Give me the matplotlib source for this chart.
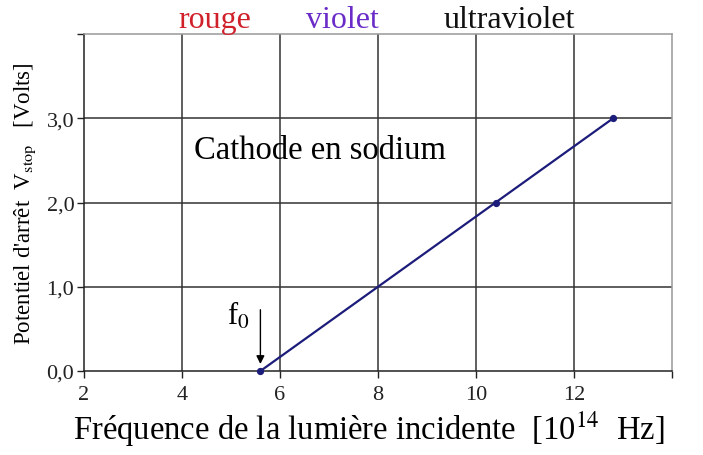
import matplotlib
matplotlib.use("Agg")
import matplotlib.pyplot as plt
from matplotlib.ticker import FixedLocator, FixedFormatter

freq = [5.6, 10.4, 12.8]
vstop = [0.0, 2.0, 3.0]
xticks = [2, 4, 6, 8, 10, 12, 14]
xticklabels = ["2", "4", "6", "8", "10", "12", ""]
yticks = [0, 1, 2, 3, 4]
yticklabels = ["0,0", "1,0", "2,0", "3,0", ""]
bands = ["rouge", "violet", "ultraviolet"]
band_colors = ["#d0202a", "#6a2bc8", "#111111"]
band_x = [4.67, 7.27, 10.69]

plt.rcParams['font.family'] = ['Liberation Serif', 'DejaVu Serif']
plt.rcParams['mathtext.fontset'] = 'stix'

fig = plt.figure(figsize=(7.03, 4.56), dpi=100)
ax = fig.add_axes([84/703, 1-372/456, (672-84)/703, (372-35)/456])
ax.set_xlim(2, 14)
ax.set_ylim(0, 4)

for x in [4, 6, 8, 10, 12]:
    ax.axvline(x, color="#333333", lw=1.1, zorder=1)
for y in [1, 2, 3]:
    ax.axhline(y, color="#333333", lw=1.1, zorder=1)

ax.plot(freq, vstop, color="#1c1c7a", lw=1.6, marker="o", ms=4.2, zorder=3, clip_on=False)

ax.annotate("", xy=(5.6, 0.05), xytext=(5.6, 0.76),
            arrowprops=dict(arrowstyle="-|>", color="black", lw=1.0, mutation_scale=12))
ax.text(5.16, 0.48, r"f$_0$", fontsize=22, ha="center", va="bottom")

ax.text(4.24, 2.63, "Cathode en sodium", fontsize=23.5, ha="left", va="center")

for b, c, x in zip(bands, band_colors, band_x):
    ax.text(x, 4.08, b, color=c, fontsize=23, ha="center", va="baseline")

ax.spines['left'].set_color("#222222")
ax.spines['bottom'].set_color("#222222")
ax.spines['top'].set_color("#999999")
ax.spines['right'].set_color("#999999")
for s in ax.spines.values():
    s.set_linewidth(1.1)

ax.xaxis.set_major_locator(FixedLocator(xticks))
ax.xaxis.set_major_formatter(FixedFormatter(xticklabels))
ax.yaxis.set_major_locator(FixedLocator(yticks))
ax.yaxis.set_major_formatter(FixedFormatter(yticklabels))
ax.tick_params(axis='x', direction='out', length=5, width=1, labelsize=16, pad=5, colors="#222222")
ax.tick_params(axis='y', direction='out', length=5, width=1, labelsize=16, pad=2, colors="#222222")

ax.set_xlabel(r"Fréquence de la lumière incidente  [10$^{14}$  Hz]", fontsize=23.5)
ax.xaxis.set_label_coords(0.485, -0.112)
ax.set_ylabel(r"Potentiel d'arrêt  V$_{\mathrm{stop}}$   [Volts]", fontsize=16.5, labelpad=6)

fig.savefig("out.png", dpi=100)
